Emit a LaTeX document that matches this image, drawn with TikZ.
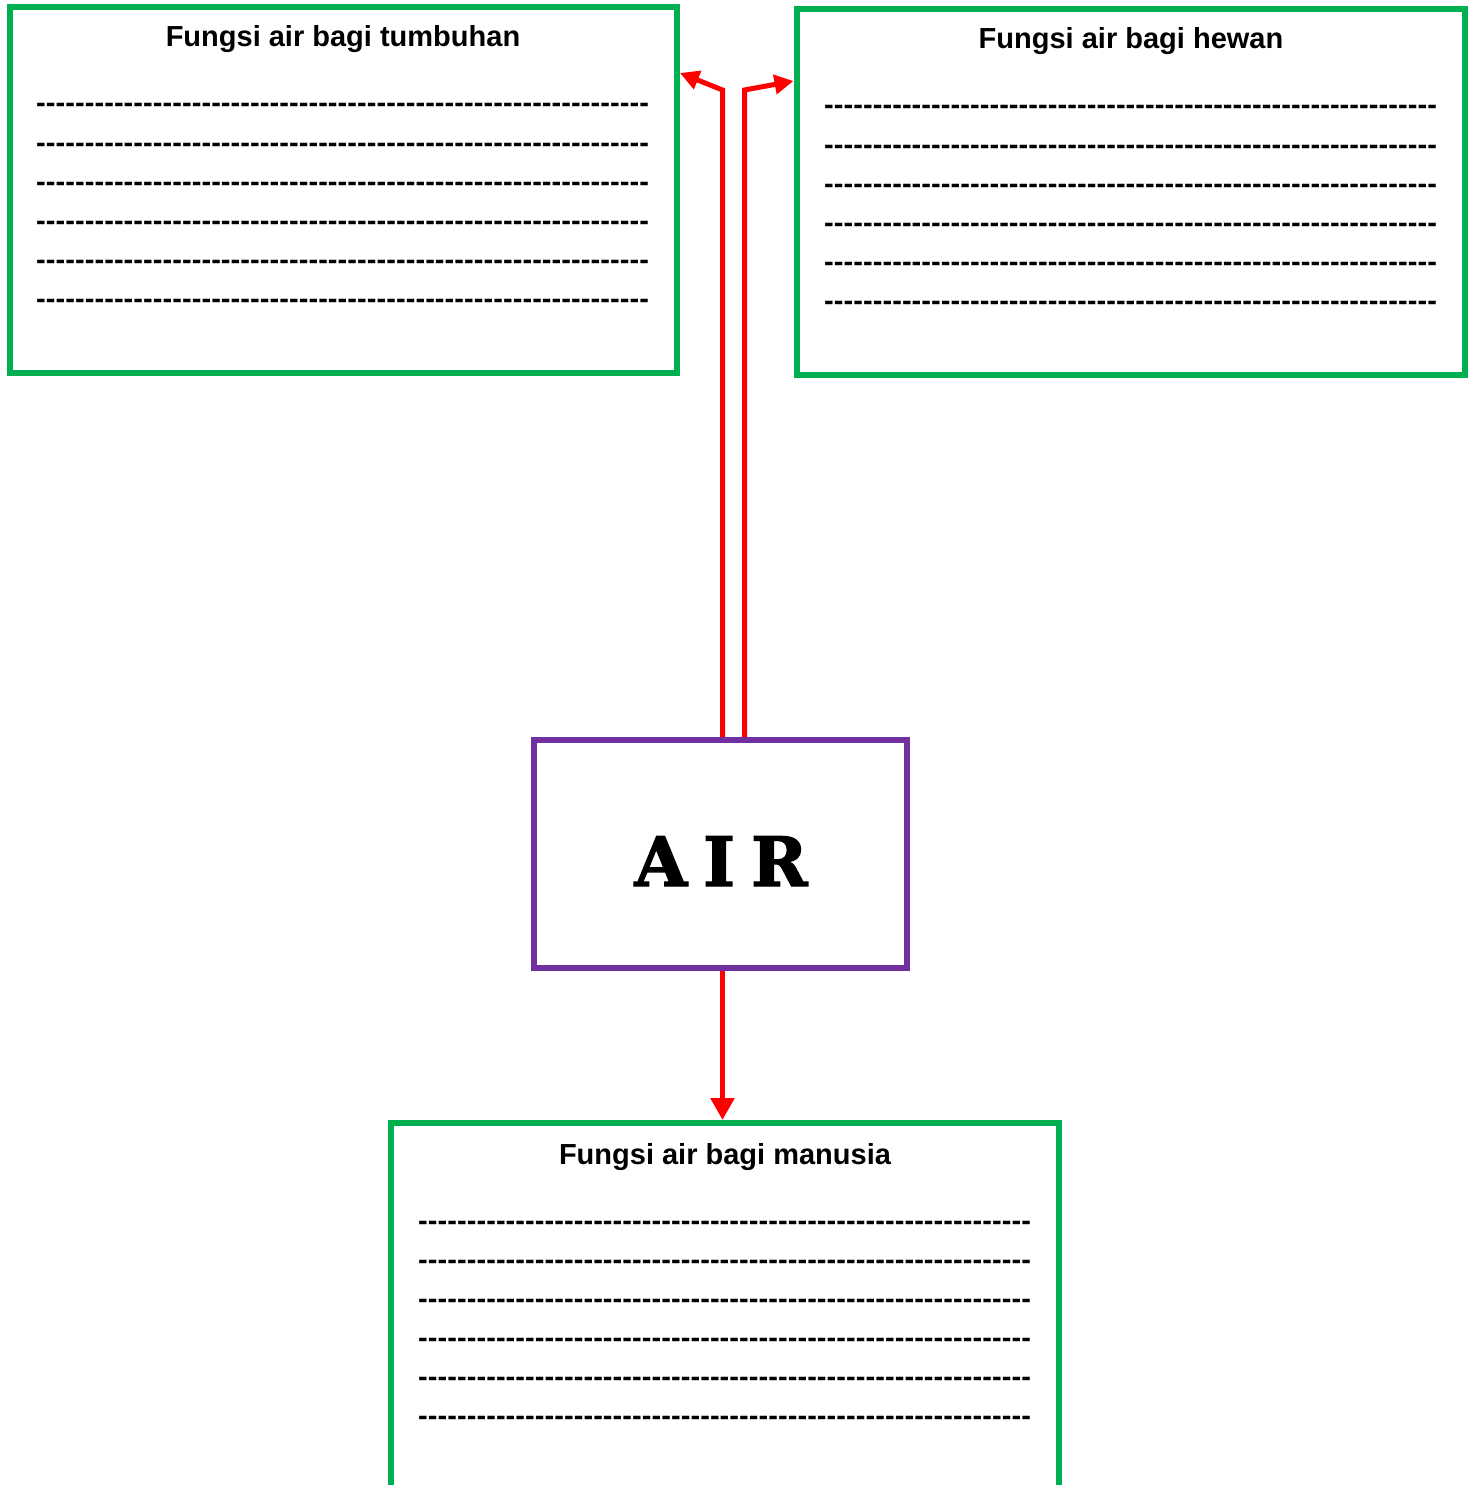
\documentclass[tikz,border=0pt]{standalone}
\usepackage{fontspec}
\setmainfont{Liberation Sans}
\newfontfamily\airfont{DejaVu Serif}[BoldFeatures={FakeBold=2}]
\usetikzlibrary{arrows.meta}
\definecolor{boxgreen}{HTML}{00B050}
\definecolor{boxpurple}{HTML}{7030A0}
\definecolor{arrred}{HTML}{FF0000}
\newcommand\hy{-\kern0.07pt}
\newcommand\hyten{\hy\hy\hy\hy\hy\hy\hy\hy\hy\hy}
\newcommand\dashrow{\hyten\hyten\hyten\hyten\hyten\hyten\hy\hy\hy}
\tikzset{
  greenbox/.style={draw=boxgreen, line width=6pt, inner sep=0pt},
  purplebox/.style={draw=boxpurple, line width=6pt, inner sep=0pt},
  title/.style={font=\fontsize{29pt}{32pt}\selectfont\bfseries, anchor=base, inner sep=0pt},
  dashline/.style={font=\fontsize{29pt}{32pt}\selectfont\bfseries, anchor=base west, inner sep=0pt},
  redline/.style={draw=arrred, line width=5pt},
  redarrow/.style={redline, -{Triangle[length=19pt,width=19pt]}},
  redarrowbig/.style={redline, line width=5.5pt, -{Triangle[length=22pt,width=23pt]}}
}
\begin{document}
\begin{tikzpicture}[x=1pt,y=-1pt]
\clip (0,0) rectangle (1475,1485);
\useasboundingbox (0,0) rectangle (1475,1485);
% boxes
\node[greenbox, minimum width=667.5pt, minimum height=365.5pt] (tumb) at (343.25,190.25) {};
\node[greenbox, minimum width=668.5pt, minimum height=365.5pt] (hewan) at (1130.75,192.25) {};
\node[greenbox, minimum width=668pt, minimum height=500pt] (manusia) at (725,1373) {};
\node[purplebox, minimum width=373pt, minimum height=228pt] (air) at (720.5,854) {};
% titles
\node[title] (t1) at (343,47) {Fungsi air bagi tumbuhan};
\node[title] (t2) at (1131,49) {Fungsi air bagi hewan};
\node[title] (t3) at (725,1164) {Fungsi air bagi manusia};
% AIR
\node[font=\fontsize{68pt}{70pt}\selectfont\airfont\bfseries, anchor=base, inner sep=0pt] (airtext) at (721,886) {A\hspace{16pt}I\hspace{16pt}R};
% dash lines
\foreach \i in {0,...,5}{
  \node[dashline] (dl\i) at (36,113+39*\i) {\dashrow};
  \node[dashline] (dr\i) at (824,115+39*\i) {\dashrow};
  \node[dashline] (db\i) at (418,1230+39*\i) {\dashrow};
}
% arrows
\coordinate (lbend) at (722.5,90);
\coordinate (rbend) at (744.5,90);
\draw[redarrow] (air.north -| lbend) -- (lbend) -- (tumb.east |- 0,73);
\draw[redarrow] (air.north -| rbend) -- (rbend) -- (hewan.west |- 0,81);
\draw[redarrowbig] (air.south -| lbend) -- (manusia.north -| lbend);
\end{tikzpicture}
\end{document}
